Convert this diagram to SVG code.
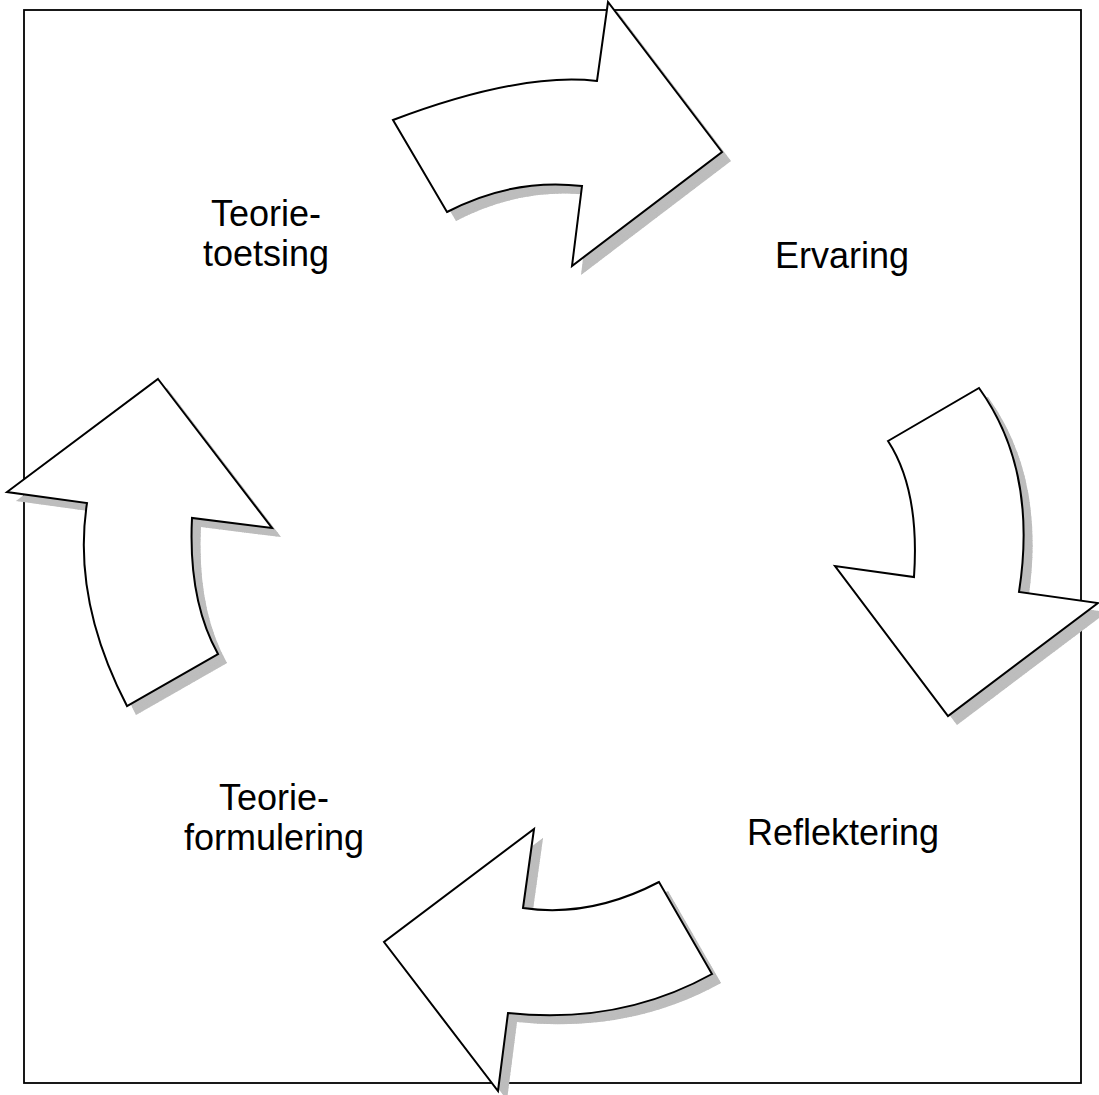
<svg xmlns="http://www.w3.org/2000/svg" width="1099" height="1095" viewBox="0 0 1099 1095">
  <style>
    .frame { fill: none; stroke: #000; stroke-width: 1.8; }
    .arrow { fill: #fff; stroke: #000; stroke-width: 2; stroke-linejoin: miter; }
    .shadow { fill: #bdbdbd; stroke: none; filter: url(#grain); }
    .label { font-family: "Liberation Sans", Arial, sans-serif; font-size: 36px; fill: #000; text-anchor: middle; }
  </style>
  <defs>
    <!-- speckled grey used for the drop shadows -->
    <filter id="grain" x="-5%" y="-5%" width="110%" height="110%">
      <feTurbulence type="fractalNoise" baseFrequency="1.4" numOctaves="1" seed="3" result="noise"/>
      <feColorMatrix in="noise" type="matrix" values="0 0 0 0 0.5  0 0 0 0 0.5  0 0 0 0 0.5  0 0 0 3 -1.2" result="dots"/>
      <feComposite in="dots" in2="SourceGraphic" operator="in" result="specks"/>
      <feMerge>
        <feMergeNode in="SourceGraphic"/>
        <feMergeNode in="specks"/>
      </feMerge>
    </filter>
    <path id="a1" d="M393,120 Q520,72 597,81 L608,2 L722,152 L572,266 L582,186 Q512,178 447,212 Z"/>
    <path id="a2" d="M888,441 L979,388 Q1038,470 1019,592 L1098,603 L948,716 L835,566 L914,577 Q920,490 888,441 Z"/>
    <path id="a3" d="M158,379 L272,528 L192,518 Q188,600 218,654 L127,706 Q72,600 87,503 L7,492 Z"/>
    <path id="a4" d="M534,829 L523,908 Q590,918 659,882 L712,974 Q620,1025 508,1013 L498,1091 L384,942 Z"/>
  </defs>

  <rect class="frame" x="24" y="10" width="1057" height="1073"/>

  <g id="connectors">
    <g id="arrow-ervaring">
      <use href="#a1" class="shadow" transform="translate(9,9)"/>
      <use href="#a1" class="arrow"/>
    </g>
    <g id="arrow-reflektering">
      <use href="#a2" class="shadow" transform="translate(9,9)"/>
      <use href="#a2" class="arrow"/>
    </g>
    <g id="arrow-formulering">
      <use href="#a4" class="shadow" transform="translate(9,9)"/>
      <use href="#a4" class="arrow"/>
    </g>
    <g id="arrow-toetsing">
      <use href="#a3" class="shadow" transform="translate(9,9)"/>
      <use href="#a3" class="arrow"/>
    </g>
  </g>

  <g id="node-ervaring">
    <text class="label" x="842" y="268">Ervaring</text>
  </g>
  <g id="node-reflektering">
    <text class="label" x="843" y="845">Reflektering</text>
  </g>
  <g id="node-teorieformulering">
    <text class="label" x="274" y="810">Teorie-</text>
    <text class="label" x="274" y="850">formulering</text>
  </g>
  <g id="node-teorietoetsing">
    <text class="label" x="266" y="226">Teorie-</text>
    <text class="label" x="266" y="266">toetsing</text>
  </g>
</svg>
